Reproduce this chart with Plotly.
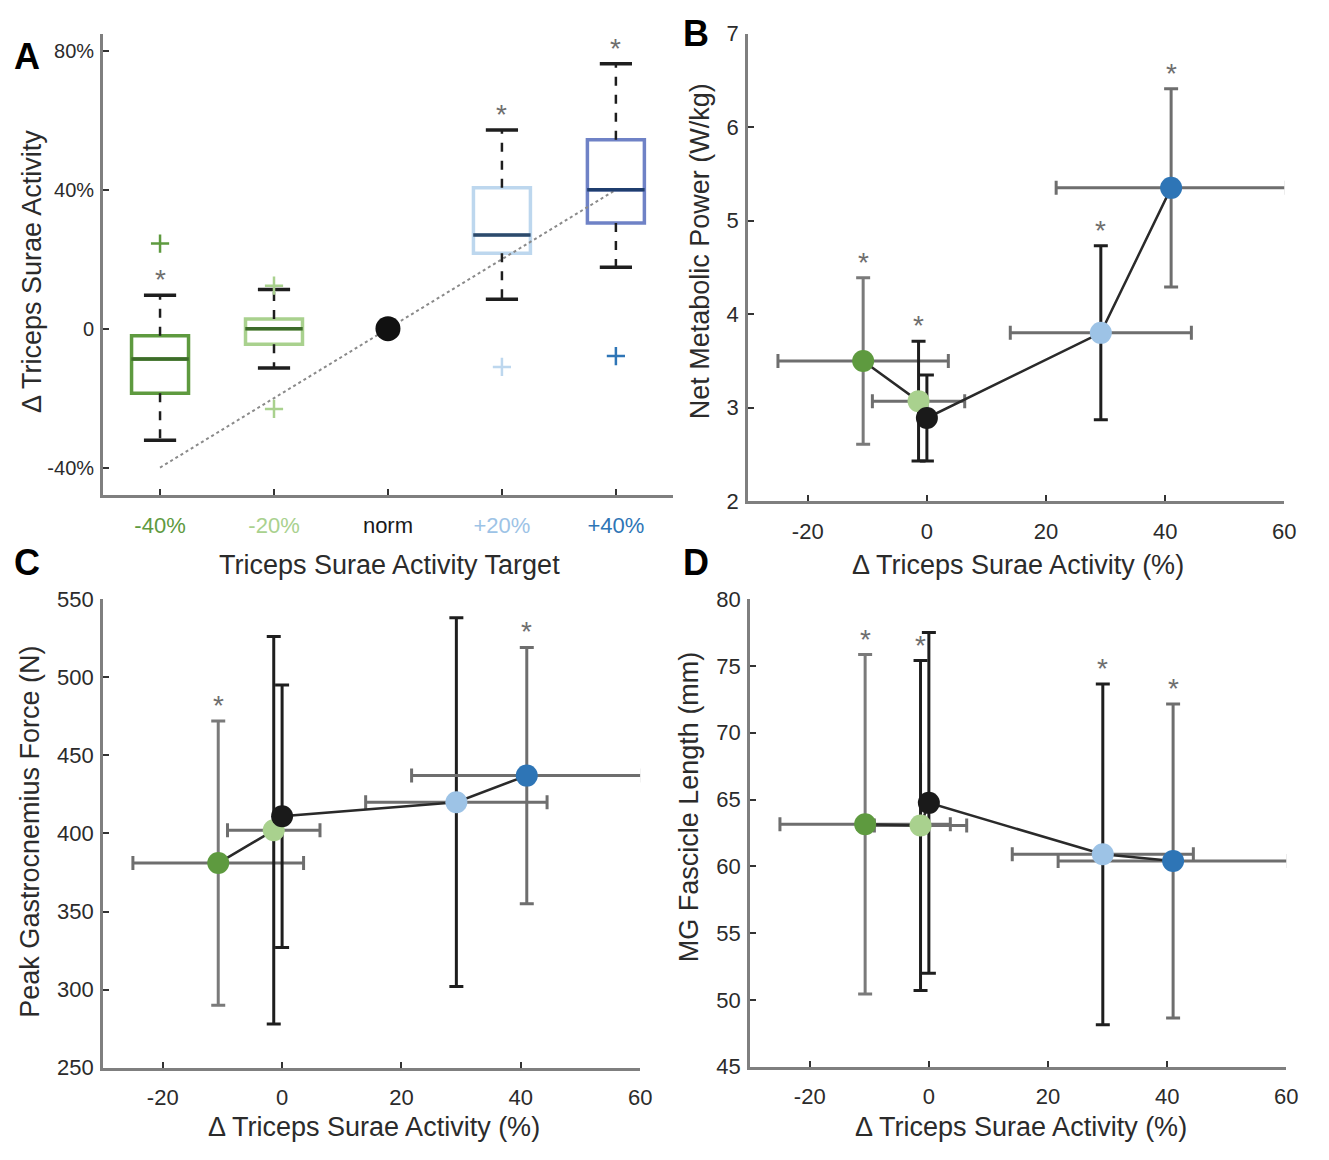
import plotly.graph_objects as go

W, H = 1329, 1160

# ---------------- Panel A data ----------------
a_categories = ["-40%", "-20%", "norm", "+20%", "+40%"]
a_targets = [-40, -20, 0, 20, 40]
a_tick_colors = ["#5e9a3f", "#a9d18e", "#1a1a1a", "#9dc3e6", "#2e75b6"]
box_idx = [0, 1, 3, 4]
box_q1 = [-18.6, -4.5, 21.7, 30.4]
box_median = [-8.7, 0.0, 27.0, 40.0]
box_q3 = [-2.0, 2.8, 40.6, 54.4]
box_lower = [-32.1, -11.3, 8.5, 17.7]
box_upper = [9.6, 11.3, 57.2, 76.3]
box_outliers = [[24.5], [12.4, -23.1], [-11.0], [-7.9]]
box_star = [True, False, True, True]
norm_idx = 2
norm_value = 0.0
a_yticks = [80, 40, 0, -40]
a_yticklabels = ["80%", "40%", "0", "-40%"]

box_colors = ["#5e9a3f", "#a9d18e", "#bdd7ee", "#6f82c6"]
median_colors = ["#3d6b2a", "#3d6b2a", "#2d4a6b", "#1f3d6e"]
outlier_colors = ["#5e9a3f", "#a9d18e", "#bdd7ee", "#2e75b6"]

# ---------------- Panels B-D data ----------------
groups = ["-40%", "-20%", "norm", "+20%", "+40%"]
pt_colors = ["#5e9a3f", "#a9d18e", "#1a1a1a", "#9dc3e6", "#2e75b6"]
vbar_colors = ["#7a7a7a", "#1e1e1e", "#1e1e1e", "#1e1e1e", "#6e6e6e"]
hbar_color = "#6e6e6e"
dts_x = [-10.7, -1.4, 0.0, 29.2, 41.0]
dts_xerr = [14.3, 7.75, 0.0, 15.2, 19.3]

b_y = [3.50, 3.07, 2.89, 3.80, 5.35]
b_yerr = [0.89, 0.64, 0.46, 0.93, 1.06]
b_star = [True, True, False, True, True]

c_y = [381, 402, 411, 420, 437]
c_yerr = [91, 124, 84, 118, 82]
c_star = [True, False, False, False, True]

d_y = [63.15, 63.05, 64.75, 60.9, 60.4]
d_yerr = [12.7, 12.35, 12.75, 12.75, 11.75]
d_star = [True, True, False, True, True]

x_ticks = [-20, 0, 20, 40, 60]
b_yticks = [2, 3, 4, 5, 6, 7]
c_yticks = [250, 300, 350, 400, 450, 500, 550]
d_yticks = [45, 50, 55, 60, 65, 70, 75, 80]

FONT = "Liberation Sans, Arial, sans-serif"
TXT = "#2b2b2b"

fig = go.Figure()

# ---------- Panel A ----------
fig.add_trace(go.Scatter(x=list(range(len(a_targets))), y=a_targets, mode="lines",
                         line=dict(color="#8a8a8a", width=2, dash="dot"),
                         xaxis="x", yaxis="y", hoverinfo="skip"))
for k, i in enumerate(box_idx):
    fig.add_trace(go.Box(x=[i], q1=[box_q1[k]], median=[box_median[k]], q3=[box_q3[k]],
                         lowerfence=[box_q1[k]], upperfence=[box_q3[k]], boxpoints=False,
                         width=0.5, line=dict(color=box_colors[k], width=3.5),
                         fillcolor="rgba(0,0,0,0)", xaxis="x", yaxis="y"))
    fig.add_trace(go.Scatter(x=[i, i, None, i, i], y=[box_q3[k], box_upper[k], None, box_q1[k], box_lower[k]],
                             mode="lines", line=dict(color="#1e1e1e", width=2.5, dash="dash"),
                             xaxis="x", yaxis="y"))
    fig.add_trace(go.Scatter(x=[i, i], y=[box_upper[k], box_lower[k]], mode="markers",
                             marker=dict(symbol="line-ew", size=23, line=dict(color="#1e1e1e", width=3.5)),
                             xaxis="x", yaxis="y"))
    fig.add_trace(go.Scatter(x=[i], y=[box_median[k]], mode="markers",
                             marker=dict(symbol="line-ew", size=41, line=dict(color=median_colors[k], width=3.5)),
                             xaxis="x", yaxis="y"))
    fig.add_trace(go.Scatter(x=[i] * len(box_outliers[k]), y=box_outliers[k], mode="markers",
                             marker=dict(symbol="cross-thin", size=13, line=dict(color=outlier_colors[k], width=2.5)),
                             xaxis="x", yaxis="y"))
fig.add_trace(go.Scatter(x=[norm_idx], y=[norm_value], mode="markers",
                         marker=dict(color="#111111", size=25), xaxis="x", yaxis="y"))

annotations = []
for k, i in enumerate(box_idx):
    if box_star[k]:
        annotations.append(dict(x=i, y=box_upper[k], xref="x", yref="y", text="*", showarrow=False,
                                yanchor="bottom", yshift=-2, font=dict(size=28, color="#6e6e6e", family=FONT)))


# ---------- Panels B-D ----------
def add_panel(ys, yerrs, stars, xa, ya):
    for j in range(len(ys)):
        fig.add_trace(go.Scatter(
            x=[dts_x[j]], y=[ys[j]], mode="markers",
            marker=dict(color=pt_colors[j], size=1, opacity=0),
            error_x=dict(type="data", array=[dts_xerr[j]], visible=dts_xerr[j] > 0,
                         color=hbar_color, thickness=3, width=7),
            error_y=dict(type="data", array=[yerrs[j]], color=vbar_colors[j], thickness=3, width=7),
            xaxis=xa, yaxis=ya))
    fig.add_trace(go.Scatter(x=dts_x, y=ys, mode="lines", line=dict(color="#2a2a2a", width=2.5),
                             xaxis=xa, yaxis=ya))
    fig.add_trace(go.Scatter(x=dts_x, y=ys, mode="markers",
                             marker=dict(color=pt_colors, size=22), xaxis=xa, yaxis=ya))
    for j in range(len(ys)):
        if stars[j]:
            annotations.append(dict(x=dts_x[j], y=ys[j] + yerrs[j], xref=xa, yref=ya, text="*",
                                    showarrow=False, yanchor="bottom", yshift=-2,
                                    font=dict(size=28, color="#6e6e6e", family=FONT)))


add_panel(b_y, b_yerr, b_star, "x2", "y2")
add_panel(c_y, c_yerr, c_star, "x3", "y3")
add_panel(d_y, d_yerr, d_star, "x4", "y4")


def px_x(a, b):
    return [a / W, b / W]


def px_y(top, bottom):
    return [1 - bottom / H, 1 - top / H]


def axis(domain, rng, tickvals, ticktext=None, anchor=None, xaxis=True, fsize=22):
    d = dict(domain=domain, range=rng, tickvals=tickvals, showline=True, linecolor="#7f7f7f",
             linewidth=3, ticks="inside", ticklen=6, tickwidth=2, tickcolor="#333333",
             showgrid=False, zeroline=False, anchor=anchor, fixedrange=True,
             ticktext=ticktext if ticktext is not None else [str(v) for v in tickvals],
             tickfont=dict(family=FONT, size=fsize, color=TXT))
    d["ticklabelstandoff"] = 8 if xaxis else 2
    return d


a_ticktext = [f"<span style='color:{c}'>{t}</span>" for t, c in zip(a_categories, a_tick_colors)]

fig.update_layout(
    width=W, height=H, margin=dict(l=0, r=0, t=0, b=0),
    paper_bgcolor="white", plot_bgcolor="white", showlegend=False,
    xaxis=axis(px_x(104, 679), [-0.5, 4.5], list(range(len(a_categories))), a_ticktext, "y"),
    yaxis=axis(px_y(22, 494), [-48, 85], a_yticks, a_yticklabels, "x", xaxis=False, fsize=20),
    xaxis2=axis(px_x(755, 1296), [-30, 60], x_ticks, None, "y2"),
    yaxis2=axis(px_y(22, 500), [2, 7], b_yticks, None, "x2", xaxis=False),
    xaxis3=axis(px_x(104, 646), [-30, 60], x_ticks, None, "y3"),
    yaxis3=axis(px_y(600, 1079), [250, 550], c_yticks, None, "x3", xaxis=False),
    xaxis4=axis(px_x(757, 1298), [-30, 60], x_ticks, None, "y4"),
    yaxis4=axis(px_y(600, 1078), [45, 80], d_yticks, None, "x4", xaxis=False),
)


def paper_text(x, y, text, size, angle=0, color=TXT):
    annotations.append(dict(x=x / W, y=1 - y / H, xref="paper", yref="paper", text=text,
                            showarrow=False, textangle=angle, xanchor="center", yanchor="middle",
                            font=dict(family=FONT, size=size, color=color)))


title_size = 27
paper_text(33, 265, "Δ Triceps Surae Activity", title_size, -90)
paper_text(393, 565, "Triceps Surae Activity Target", title_size)
paper_text(706, 245, "Net Metabolic Power (W/kg)", title_size, -90)
paper_text(1027, 565, "Δ Triceps Surae Activity (%)", title_size)
paper_text(30, 838, "Peak Gastrocnemius Force (N)", title_size, -90)
paper_text(377, 1140, "Δ Triceps Surae Activity (%)", title_size)
paper_text(695, 812, "MG Fascicle Length (mm)", title_size, -90)
paper_text(1030, 1140, "Δ Triceps Surae Activity (%)", title_size)

for lx, ly, lt in [(27, 45, "A"), (702, 22, "B"), (27, 563, "C"), (702, 563, "D")]:
    annotations.append(dict(x=lx / W, y=1 - ly / H, xref="paper", yref="paper", text=f"<b>{lt}</b>",
                            showarrow=False, xanchor="center", yanchor="middle",
                            font=dict(family=FONT, size=36, color="#000000")))

fig.update_layout(annotations=annotations)
fig.write_html("out.html")
